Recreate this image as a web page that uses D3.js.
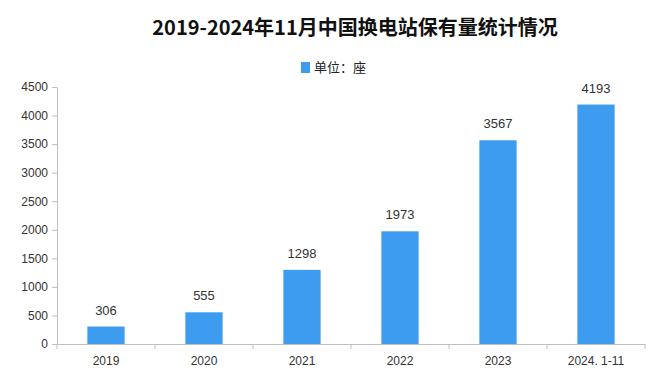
<!DOCTYPE html>
<html>
<head>
<meta charset="utf-8">
<script src="https://cdn.jsdelivr.net/npm/d3@7"></script>
<style>
  body { margin: 0; background: #fff; }
  svg { font-family: "Noto Sans CJK SC", "DejaVu Sans", sans-serif; }
  .axis text { font-family: "Liberation Sans", "DejaVu Sans", sans-serif; font-size: 12px; fill: #333; }
  .axis path, .axis line { stroke: #bfbfbf; }
</style>
</head>
<body>
<svg id="chart" width="670" height="386"></svg>
<script>
const categories = ['2019', '2020', '2021', '2022', '2023', '2024. 1-11'];
const values = [306, 555, 1298, 1973, 3567, 4193];
const yTicks = [0, 500, 1000, 1500, 2000, 2500, 3000, 3500, 4000, 4500];

const margin = { top: 87, left: 57, right: 25, bottom: 42 };
const width = 670 - margin.left - margin.right;
const height = 386 - margin.top - margin.bottom;
const barColor = '#3d9cf0';

const svg = d3.select('#chart');

svg.append('text')
    .attr('x', 355)
    .attr('y', 35)
    .attr('text-anchor', 'middle')
    .style('font-size', '20px')
    .style('font-weight', 'bold')
    .style('fill', '#111')
    .text('2019-2024年11月中国换电站保有量统计情况');

// legend
svg.append('rect')
    .attr('x', 301)
    .attr('y', 62)
    .attr('width', 9)
    .attr('height', 11)
    .attr('fill', barColor);
svg.append('text')
    .attr('x', 314)
    .attr('y', 72)
    .style('font-size', '13px')
    .style('fill', '#222')
    .text('单位：座');

const chart = svg.append('g')
    .attr('transform', `translate(${margin.left}, ${margin.top})`);

const xScale = d3.scaleBand()
    .range([0, width])
    .domain(categories)
    .paddingInner(0.62)
    .paddingOuter(0.31);

const xBounds = d3.scaleBand()
    .range([0, width])
    .domain(categories);

const yScale = d3.scaleLinear()
    .range([height, 0])
    .domain([0, 4500]);

chart.append('g')
    .attr('class', 'axis y-axis')
    .call(d3.axisLeft(yScale)
        .tickValues(yTicks)
        .tickFormat(d3.format('d'))
        .tickSize(5)
        .tickSizeOuter(0)
        .tickPadding(4)
    );

const xAxis = chart.append('g')
    .attr('class', 'axis x-axis')
    .attr('transform', `translate(0, ${height})`)
    .call(d3.axisBottom(xScale)
        .tickSize(0)
        .tickSizeOuter(0)
        .tickPadding(12)
    );

// tick marks at band boundaries
const bounds = categories.map(c => xBounds(c)).concat([width]);
xAxis.selectAll('.bound')
    .data(bounds)
    .enter()
    .append('line')
    .attr('class', 'bound')
    .attr('x1', d => d)
    .attr('x2', d => d)
    .attr('y1', 0)
    .attr('y2', 5)
    .attr('stroke', '#bfbfbf');

chart.selectAll('.bar')
    .data(values)
    .enter()
    .append('rect')
    .attr('class', 'bar')
    .attr('x', (d, i) => xScale(categories[i]))
    .attr('y', d => yScale(d))
    .attr('width', xScale.bandwidth())
    .attr('height', d => height - yScale(d))
    .attr('fill', barColor);

chart.selectAll('.val')
    .data(values)
    .enter()
    .append('text')
    .attr('class', 'val')
    .attr('x', (d, i) => xScale(categories[i]) + xScale.bandwidth() / 2)
    .attr('y', d => yScale(d) - 12)
    .attr('text-anchor', 'middle')
    .style('font-family', '"Liberation Sans", "DejaVu Sans", sans-serif')
    .style('font-size', '13px')
    .style('fill', '#333')
    .text(d => d);
</script>
</body>
</html>
